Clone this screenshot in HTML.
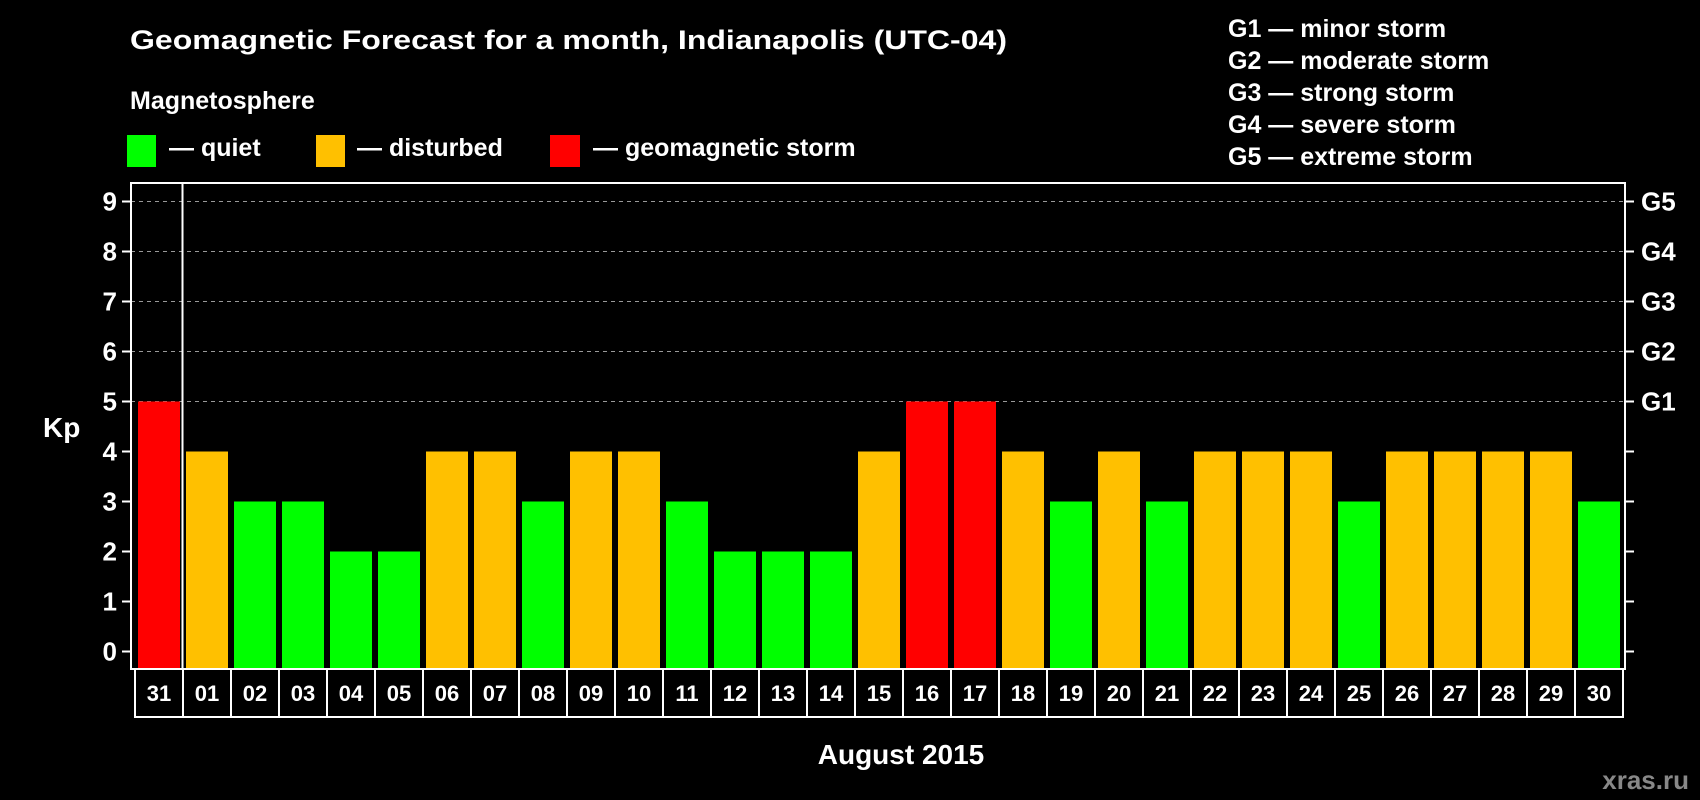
<!DOCTYPE html>
<html><head><meta charset="utf-8"><style>
html,body{margin:0;padding:0;background:#000;}
svg{display:block;font-family:"Liberation Sans",sans-serif;font-weight:bold;}
</style></head><body>
<svg id="chart" width="1700" height="800" viewBox="0 0 1700 800">
<rect x="0" y="0" width="1700" height="800" fill="#000"/>
<text x="130" y="49" fill="#fff" font-size="27" textLength="877" lengthAdjust="spacingAndGlyphs">Geomagnetic Forecast for a month, Indianapolis (UTC-04)</text>
<text x="130" y="109" fill="#fff" font-size="25">Magnetosphere</text>
<rect x="127" y="135" width="29" height="32" fill="#00ff00"/>
<text x="169" y="156" fill="#fff" font-size="25">— quiet</text>
<rect x="316" y="135" width="29" height="32" fill="#ffc000"/>
<text x="357" y="156" fill="#fff" font-size="25">— disturbed</text>
<rect x="550" y="135" width="30" height="32" fill="#ff0000"/>
<text x="593" y="156" fill="#fff" font-size="25">— geomagnetic storm</text>
<g fill="#fff" font-size="25">
<text x="1228" y="37">G1 — minor storm</text>
<text x="1228" y="69">G2 — moderate storm</text>
<text x="1228" y="101">G3 — strong storm</text>
<text x="1228" y="133">G4 — severe storm</text>
<text x="1228" y="165">G5 — extreme storm</text>
</g>
<text x="43" y="437" fill="#fff" font-size="28">Kp</text>
<text x="901" y="764" fill="#fff" font-size="28" text-anchor="middle">August 2015</text>
<text x="1689" y="789" fill="#888" font-size="26" text-anchor="end">xras.ru</text>
<g id="grid"></g><g id="bars"></g><g id="axes"></g><g id="xlabels"></g>
</svg>
<script>
const days = ["31","01","02","03","04","05","06","07","08","09","10","11","12","13","14","15","16","17","18","19","20","21","22","23","24","25","26","27","28","29","30"];
const kpValues = [5,4,3,3,2,2,4,4,3,4,4,3,2,2,2,4,5,5,4,3,4,3,4,4,4,3,4,4,4,4,3];
const yTicks = [0,1,2,3,4,5,6,7,8,9];
const gLabels = ["G1","G2","G3","G4","G5"];
const gLevels = [5,6,7,8,9];

const NS = "http://www.w3.org/2000/svg";
const L = 131, R = 1625, T = 183, B = 669;
const y = v => 651.5 - 50 * v;
const xStart = 138, pitch = 48, barW = 42;
const x = i => xStart + i * pitch;
function mk(tag, attrs, parent, txt) {
  const e = document.createElementNS(NS, tag);
  for (const k in attrs) e.setAttribute(k, attrs[k]);
  if (txt !== undefined) e.textContent = txt;
  parent.appendChild(e);
  return e;
}
const grid = document.getElementById("grid"), bars = document.getElementById("bars"),
      axes = document.getElementById("axes"), xl = document.getElementById("xlabels");
yTicks.forEach(v => {
  if (v >= 5) {
    const g = mk("line", {x1: L, x2: R, y1: y(v), y2: y(v), stroke: "#999", "stroke-width": 1, "stroke-dasharray": "4,4"}, grid);
    
    
  }
  const t = mk("line", {x1: L - 9, x2: L, y1: y(v), y2: y(v), stroke: "#fff", "stroke-width": 2}, axes);
  
  
  const t2 = mk("line", {x1: R, x2: R + 9, y1: y(v), y2: y(v), stroke: "#fff", "stroke-width": 2}, axes);
  
  
  const lb = mk("text", {x: 117, y: y(v) + 9, fill: "#fff", "font-size": 26, "text-anchor": "end"}, axes, String(v));
  
  
});
gLabels.forEach((g, i) => {
  const e = mk("text", {x: 1641, y: y(gLevels[i]) + 9, fill: "#fff", "font-size": 26}, axes, g);
  
  
});
kpValues.forEach((v, i) => {
  const col = v >= 5 ? "#ff0000" : (v >= 4 ? "#ffc000" : "#00ff00");
  const b = mk("rect", {x: x(i), y: y(v), width: barW, height: y(0) - y(v) + 17, fill: col}, bars);
  
  
});
const frame = mk("rect", {x: L, y: T, width: R - L, height: B - T, fill: "none", stroke: "#fff", "stroke-width": 2}, axes);


const sep = mk("line", {x1: 182.5, x2: 182.5, y1: T, y2: B, stroke: "#fff", "stroke-width": 2}, axes);


days.forEach((d, i) => {
  const bx = 135 + i * pitch;
  const r = mk("rect", {x: bx, y: B, width: pitch, height: 48, fill: "none", stroke: "#fff", "stroke-width": 2}, xl);
  
  
  const t = mk("text", {x: bx + pitch / 2, y: 701, fill: "#fff", "font-size": 22, "text-anchor": "middle"}, xl, d);
  
  
});
</script>
</body></html>
